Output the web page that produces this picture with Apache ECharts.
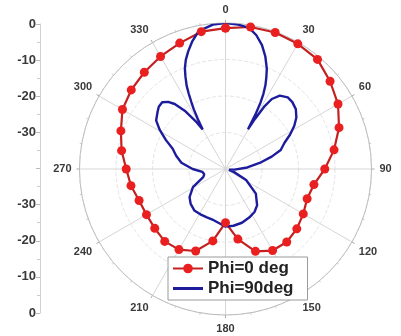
<!DOCTYPE html>
<html>
<head>
<meta charset="utf-8">
<script src="https://cdn.jsdelivr.net/npm/echarts@6/dist/echarts.min.js"></script>
<style>
  html, body { margin: 0; padding: 0; background: #fff; }
  #chart { width: 401px; height: 336px; }
</style>
</head>
<body>
<div id="chart"></div>
<script>
// Phi = 0 deg (red, markers every 10 degrees)
const redAngles = [0,10,20,30,40,50,60,70,80,90,100,110,120,130,140,150,160,170,180,190,200,210,220,230,240,250,260,270,280,290,300,310,320,330,340,350,360];
const redValues = [-1.4,-0.5,-0.2,-0.4,-0.8,-2.6,-4.4,-6.9,-9.8,-12.8,-15.4,-16.2,-15.4,-14.5,-13.9,-14.2,-16.0,-20.5,-25.3,-20.0,-16.1,-14.5,-14.1,-14.7,-15.0,-14.8,-13.7,-12.8,-11.1,-9.5,-7.4,-6.3,-5.4,-4.4,-3.3,-1.8,-1.4];

// Phi = 90 deg (blue line)
const blueAngles = [0,5,9.5,13,16.4,19.5,22.4,24,25.5,26.8,27.8,28.8,29.5,30.5,31.8,33.5,36.5,41,45,49.6,54,58,62,66,71,75,80,86,94,103,110,118,129,139,146,154,163,172,180,186,193,201,209,217,225,232,241,250,256,263,270,278,285,291,296,301,305,310,313,316.5,319.5,322,325,328,330,331,332,333,334,335,336.5,338,340,342.4,345.5,349,355,360];
const blueValues = [0,-0.3,-0.8,-2.4,-4.6,-7.3,-10.3,-12.5,-14.6,-17,-19.4,-23,-27.5,-24,-20,-17,-15,-14.0,-14.1,-14.7,-16,-17.8,-20,-22.3,-24,-26.9,-30.5,-34,-37.5,-39,-37.5,-33.6,-29.3,-26.8,-25.8,-25.2,-24.6,-24.3,-24.2,-25.0,-25.6,-25.8,-25.8,-25.8,-26.5,-27.5,-29.8,-33.5,-34,-33.6,-31,-27.8,-26,-24.5,-21.8,-18.9,-16.8,-15.7,-15,-14.8,-15.8,-17.4,-20.5,-24.5,-27.5,-24.4,-21.5,-19.4,-17,-14.8,-12.5,-10.3,-8.2,-6.2,-3.8,-1.5,-0.3,0];

// left scale tick labels, top to bottom
const leftTickLabels = ['0','-10','-20','-30','','-30','-20','-10','0'];
const seriesNames = ['Phi=0 deg','Phi=90deg'];

const chart = echarts.init(document.getElementById('chart'), null, {renderer: 'canvas'});
const font = 'Liberation Sans, Arial, sans-serif';

chart.setOption({
  animation: false,
  backgroundColor: '#fff',
  textStyle: { fontFamily: font },
  grid: { left: 40, top: 24, width: 10, height: 289, containLabel: false },
  xAxis: { type: 'value', min: 0, max: 1, show: false },
  yAxis: {
    type: 'value', min: 0, max: 80, interval: 10, position: 'left',
    axisLine: { show: true, lineStyle: { color: '#d0d0d0', width: 1 } },
    axisTick: { show: true, length: 4, lineStyle: { color: '#bbb' } },
    minorTick: { show: true, splitNumber: 2, length: 3, lineStyle: { color: '#ccc' } },
    splitLine: { show: false },
    axisLabel: {
      margin: 4, fontSize: 13, fontWeight: 'bold', color: '#3a3a3a', fontFamily: font,
      formatter: function (v) { return leftTickLabels[8 - Math.round(v / 10)]; }
    }
  },
  polar: { center: [225.5, 169], radius: 146 },
  angleAxis: {
    type: 'value', min: 0, max: 360, interval: 30, startAngle: 90, clockwise: true,
    axisLine: { show: true, lineStyle: { color: '#bdbdbd', width: 1 } },
    axisTick: { show: true, length: 3, lineStyle: { color: '#aaa' } },
    minorTick: { show: true, splitNumber: 3, length: 2, lineStyle: { color: '#ccc' } },
    splitLine: { show: true, lineStyle: { color: '#d6d6d6', width: 1 } },
    axisLabel: { margin: 8, fontSize: 11, fontWeight: 'bold', color: '#3a3a3a', fontFamily: font }
  },
  radiusAxis: {
    type: 'value', min: -40, max: 0, interval: 10,
    axisLine: { show: false }, axisTick: { show: false }, axisLabel: { show: false },
    splitLine: { show: true, lineStyle: { color: '#e4e4e4', type: 'dashed' } }
  },
  legend: {
    orient: 'vertical', left: 168, top: 257,
    data: [
      { name: seriesNames[0] },
      { name: seriesNames[1], icon: 'path://M0,0 L30,0 L30,3 L0,3 Z' }
    ],
    backgroundColor: '#fff', borderColor: '#9a9a9a', borderWidth: 1,
    padding: [3, 14, 3, 4], itemGap: 3, itemWidth: 30, itemHeight: 12,
    textStyle: { fontSize: 17, fontWeight: 'bold', color: '#222', fontFamily: font }
  },
  series: [
    {
      name: seriesNames[0], type: 'line', coordinateSystem: 'polar',
      data: redAngles.map((a, i) => [redValues[i], a]),
      symbol: 'circle', symbolSize: 9, showSymbol: true,
      itemStyle: { color: '#ea1f1f' },
      lineStyle: { color: '#c42020', width: 2.2 }
    },
    {
      name: seriesNames[1], type: 'line', coordinateSystem: 'polar',
      data: blueAngles.map((a, i) => [blueValues[i], a]),
      symbol: 'none',
      itemStyle: { color: '#1c1c9c' },
      lineStyle: { color: '#1c1c9c', width: 2.4 }
    }
  ]
});
</script>
</body>
</html>
